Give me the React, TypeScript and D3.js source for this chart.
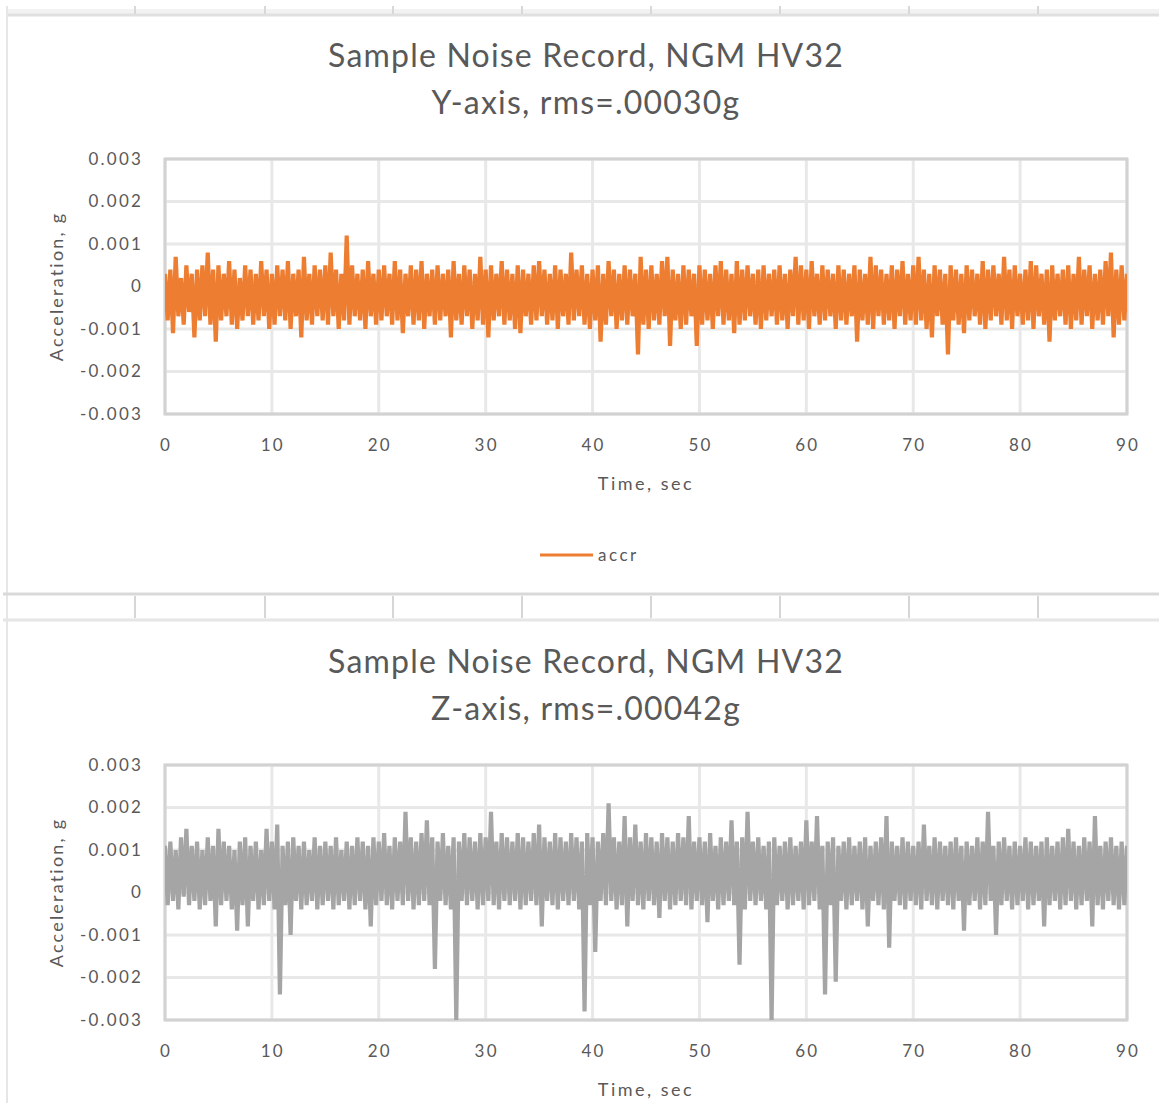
import React from 'react';
import * as d3 from 'd3';

// Sample spacing of the plotted record, seconds
const timeStep = 0.25;

// Y-axis record, units of 1e-4 g (0.25 s apart)
const yAccel_e4 = [
  3, -8, 4, -11, 7, -7, 2, -9, 5, -6, 3, -12, 4, -8, 5, -7, 8, -9, 4, -13,
  5, -8, 3, -7, 6, -9, 4, -10, 2, -8, 5, -7, 4, -9, 3, -8, 6, -7, 4, -10,
  3, -9, 5, -7, 4, -8, 6, -10, 3, -7, 4, -12, 7, -8, 3, -9, 5, -7, 4, -8,
  5, -9, 8, -7, 4, -10, 3, -8, 12, -9, 5, -7, 3, -8, 4, -10, 6, -7, 3, -9,
  4, -8, 5, -7, 3, -9, 6, -8, 4, -11, 3, -7, 5, -9, 4, -8, 6, -10, 3, -7,
  4, -9, 5, -8, 3, -7, 4, -12, 6, -8, 3, -9, 5, -7, 4, -10, 3, -8, 7, -9,
  4, -12, 5, -8, 3, -7, 6, -9, 4, -8, 3, -10, 5, -11, 4, -7, 3, -9, 5, -8,
  6, -7, 4, -9, 3, -8, 5, -10, 4, -7, 3, -9, 8, -8, 4, -7, 5, -9, 3, -10,
  4, -8, 5, -13, 3, -9, 6, -7, 4, -10, 3, -8, 5, -9, 4, -7, 3, -16, 7, -9,
  4, -10, 5, -8, 3, -9, 6, -7, 7, -14, 4, -8, 3, -10, 5, -9, 4, -7, 3, -14,
  5, -9, 4, -8, 3, -10, 5, -7, 6, -9, 4, -8, 3, -11, 6, -9, 4, -8, 5, -7,
  3, -9, 4, -10, 5, -8, 3, -7, 4, -9, 5, -8, 3, -10, 4, -7, 7, -9, 5, -8,
  4, -10, 6, -7, 3, -9, 5, -8, 4, -7, 3, -10, 5, -8, 4, -9, 3, -7, 5, -13,
  4, -8, 3, -9, 7, -10, 5, -7, 4, -9, 3, -8, 5, -10, 4, -7, 6, -9, 3, -8,
  5, -9, 7, -8, 4, -10, 3, -12, 5, -7, 4, -9, 3, -16, 5, -8, 4, -9, 3, -11,
  5, -8, 4, -7, 3, -9, 6, -10, 4, -8, 5, -7, 3, -9, 7, -8, 4, -10, 5, -7,
  3, -9, 4, -8, 6, -10, 5, -7, 3, -9, 4, -13, 5, -8, 3, -7, 4, -9, 5, -10,
  3, -8, 7, -9, 4, -7, 5, -10, 3, -8, 4, -9, 6, -7, 8, -12, 4, -9, 5, -8,
  3,
];

// Z-axis record, units of 1e-4 g
const zAccel_e4 = [
  11, -3, 12, -2, 10, -4, 13, -1, 15, -3, 11, -2, 12, -4, 10, -3, 13, -2, 11, -8,
  15, -3, 12, -2, 11, -4, 10, -9, 12, -3, 13, -8, 11, -2, 12, -4, 10, -3, 15, -2,
  12, -4, 16, -24, 11, -3, 12, -10, 13, -2, 11, -4, 12, -3, 10, -2, 13, -4, 11, -3,
  12, -2, 11, -4, 13, -3, 10, -2, 12, -4, 11, -3, 13, -2, 12, -4, 11, -8, 13, -3,
  12, -2, 14, -3, 11, -4, 13, -2, 12, -3, 19, -2, 13, -4, 12, -3, 14, -2, 17, -3,
  13, -18, 12, -2, 14, -3, 11, -4, 13, -30, 12, -2, 14, -3, 13, -2, 12, -4, 14, -3,
  13, -2, 19, -3, 12, -4, 14, -2, 13, -3, 12, -2, 14, -4, 13, -3, 12, -2, 14, -3,
  16, -8, 13, -2, 12, -3, 14, -4, 13, -2, 12, -3, 14, -2, 13, -4, 12, -28, 14, -3,
  13, -14, 12, -2, 14, -3, 21, -2, 13, -4, 12, -3, 18, -8, 13, -2, 16, -3, 12, -4,
  14, -2, 13, -3, 12, -6, 14, -2, 13, -4, 12, -3, 14, -2, 13, -3, 18, -4, 12, -2,
  13, -3, 12, -7, 14, -2, 11, -4, 13, -3, 12, -2, 17, -3, 12, -17, 13, -4, 19, -2,
  12, -3, 13, -2, 11, -4, 12, -30, 13, -3, 11, -2, 12, -4, 13, -3, 11, -2, 12, -4,
  17, -3, 12, -2, 18, -4, 11, -24, 12, -3, 13, -21, 11, -2, 12, -4, 13, -3, 11, -2,
  12, -4, 13, -8, 11, -2, 12, -3, 13, -4, 18, -13, 12, -2, 11, -3, 13, -4, 12, -2,
  11, -3, 12, -4, 16, -2, 11, -3, 13, -4, 12, -2, 11, -3, 12, -4, 13, -2, 11, -9,
  12, -3, 11, -2, 13, -4, 12, -3, 19, -2, 11, -10, 12, -3, 13, -2, 11, -4, 12, -3,
  11, -2, 13, -4, 12, -3, 11, -2, 12, -8, 13, -3, 11, -2, 12, -4, 13, -3, 15, -2,
  12, -4, 11, -3, 13, -2, 12, -8, 18, -3, 11, -4, 12, -2, 13, -3, 11, -4, 12, -3,
  11,
];

const xTicks = [0, 10, 20, 30, 40, 50, 60, 70, 80, 90];
const yTicks = [0.003, 0.002, 0.001, 0, -0.001, -0.002, -0.003];
const chartTitle = 'Sample Noise Record, NGM HV32';
const yChartSubtitle = 'Y-axis, rms=.00030g';
const zChartSubtitle = 'Z-axis, rms=.00042g';
const xAxisTitle = 'Time, sec';
const yAxisTitle = 'Acceleration, g';
const legendLabel = 'accr';

// worksheet column boundaries showing between the charts
const sheetCols = [135, 265, 393, 522, 651, 780, 909, 1038];

const W = 1159;
const H = 1103;
const textColor = '#595959';
const font = 'Lato, "Open Sans", sans-serif';

const x = d3.scaleLinear().domain([0, 90]).range([165, 1127]);
const y = d3.scaleLinear().domain([-0.003, 0.003]).range([414, 159]);

type ChartProps = {
  id: string;
  top: number;
  subtitle: string;
  values: number[];
  color: string;
  legend: boolean;
};

function NoiseChart({ id, top, subtitle, values, color, legend }: ChartProps) {
  const line = d3
    .line<number>()
    .x((_, i) => x(i * timeStep))
    .y((v) => y(v / 1e4));
  const [x0, x1] = x.range();
  const [y0, y1] = y.range();
  const cx = 586;

  return (
    <g transform={`translate(0,${top})`}>
      <text x={cx} y={67} textAnchor="middle" fontSize={32} letterSpacing={1.2} fill={textColor} fontFamily={font}>
        {chartTitle}
      </text>
      <text x={cx} y={114} textAnchor="middle" fontSize={32} letterSpacing={1.2} fill={textColor} fontFamily={font}>
        {subtitle}
      </text>

      {/* gridlines */}
      {yTicks.map((t) => (
        <line key={'gy' + t} x1={x0} x2={x1} y1={y(t)} y2={y(t)} stroke="#e8e8e8" strokeWidth={3} />
      ))}
      {xTicks.map((t) => (
        <line key={'gx' + t} x1={x(t)} x2={x(t)} y1={y1} y2={y0} stroke="#e8e8e8" strokeWidth={3} />
      ))}
      <rect x={x0} y={y1} width={x1 - x0} height={y0 - y1} fill="none" stroke="#d2d2d2" strokeWidth={3} />

      <clipPath id={id}>
        <rect x={x0} y={y1 - 1} width={x1 - x0} height={y0 - y1 + 2} />
      </clipPath>
      <path
        d={line(values) || ''}
        fill="none"
        stroke={color}
        strokeWidth={4.2}
        strokeLinejoin="bevel"
        clipPath={`url(#${id})`}
      />

      {/* tick labels */}
      {yTicks.map((t) => (
        <text key={'ly' + t} x={143} y={y(t)} dy="0.35em" textAnchor="end" fontSize={17} letterSpacing={2.2} fill={textColor} fontFamily={font}>
          {t === 0 ? '0' : t.toFixed(3)}
        </text>
      ))}
      {xTicks.map((t) => (
        <text key={'lx' + t} x={x(t) + 1} y={445} dy="0.35em" textAnchor="middle" fontSize={17} letterSpacing={2.2} fill={textColor} fontFamily={font}>
          {t}
        </text>
      ))}

      <text x={(x0 + x1) / 2} y={484} dy="0.35em" textAnchor="middle" fontSize={18} letterSpacing={2.5} fill={textColor} fontFamily={font}>
        {xAxisTitle}
      </text>
      <text transform={`translate(57,${(y0 + y1) / 2}) rotate(-90)`} dy="0.35em" textAnchor="middle" fontSize={18} letterSpacing={2.2} fill={textColor} fontFamily={font}>
        {yAxisTitle}
      </text>

      {legend && (
        <g>
          <line x1={540} x2={593} y1={555} y2={555} stroke={color} strokeWidth={3} />
          <text x={598} y={555} dy="0.35em" fontSize={17} letterSpacing={2.5} fill={textColor} fontFamily={font}>
            {legendLabel}
          </text>
        </g>
      )}
    </g>
  );
}

export default function App() {
  return (
    <svg width={W} height={H} style={{ position: 'absolute', left: 0, top: 0, background: '#fff' }}>
      {/* worksheet strip at the top */}
      <rect x={8} y={9} width={W} height={5} fill="#f2f2f2" />
      <line x1={8} x2={W} y1={15} y2={15} stroke="#e0e0e0" strokeWidth={3} />
      {sheetCols.map((c) => (
        <line key={'t' + c} x1={c} x2={c} y1={6} y2={14} stroke="#d8d8d8" strokeWidth={2} />
      ))}
      {/* chart area left border */}
      <line x1={7} x2={7} y1={6} y2={H} stroke="#e6e6e6" strokeWidth={2} />

      {/* worksheet row between the charts */}
      <line x1={3} x2={W} y1={594} y2={594} stroke="#d9d9d9" strokeWidth={3} />
      {sheetCols.map((c) => (
        <line key={'m' + c} x1={c} x2={c} y1={596} y2={618} stroke="#d6d6d6" strokeWidth={2} />
      ))}
      <line x1={3} x2={W} y1={620} y2={620} stroke="#e6e6e6" strokeWidth={3} />

      <NoiseChart id="clipY" top={0} subtitle={yChartSubtitle} values={yAccel_e4} color="#ed7d31" legend={true} />
      <NoiseChart id="clipZ" top={606} subtitle={zChartSubtitle} values={zAccel_e4} color="#a5a5a5" legend={false} />
    </svg>
  );
}
